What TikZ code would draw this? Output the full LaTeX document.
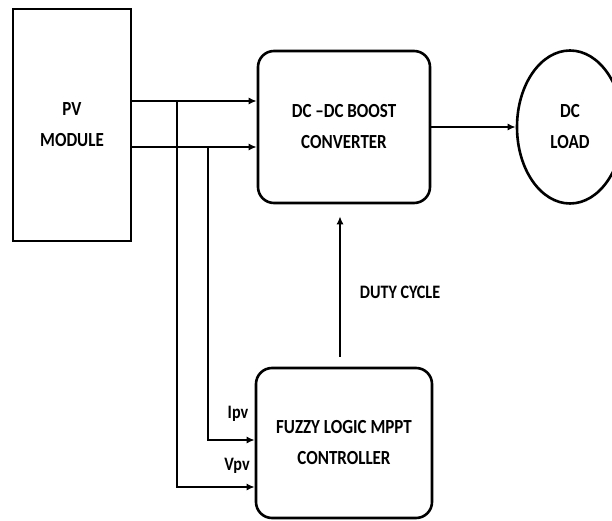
\documentclass[tikz,border=0pt]{standalone}
\usepackage{fontspec}
\setmainfont{Carlito}
\newfontfamily\blockfont[FakeStretch=0.85]{Carlito}
\usetikzlibrary{arrows.meta,positioning,shapes.geometric,calc}

\begin{document}
\begin{tikzpicture}[x=1pt, y=-1pt,
		block/.style={draw, line width=2.6pt, align=center, inner sep=0pt,
				font=\blockfont\fontsize{20}{31}\selectfont\bfseries},
		rblock/.style={block, rounded corners=16pt},
		loadnode/.style={block, ellipse},
		sig/.style={font=\blockfont\fontsize{19}{21}\selectfont\bfseries},
		wire/.style={-{Latex[length=8pt,width=7pt]}, line width=2.4pt}]

		\useasboundingbox (0,0) rectangle (612,521);
		\clip (0,0) rectangle (612,521);

		% ── blocks ──
		\node[block, minimum width=118pt, minimum height=232pt] (pv) at (72,125) {PV\\MODULE};
		\node[rblock, minimum width=172pt, minimum height=152pt] (boost) at (344,127) {DC –DC BOOST\\CONVERTER};
		\node[loadnode, minimum width=106pt, minimum height=153pt] (load) at (570,127) {DC\\LOAD};
		\node[rblock, minimum width=176pt, minimum height=150pt] (mppt) at (344,443) {FUZZY LOGIC MPPT\\CONTROLLER};

		% ── tap points ──
		\coordinate (tapv) at (177,101);
		\coordinate (tapi) at (208,147);
		\coordinate (duty) at (340,0);

		% ── PV to converter ──
		\draw[wire] (pv.east |- tapv) -- (boost.west |- tapv);
		\draw[wire] (pv.east |- tapi) -- (boost.west |- tapi);

		% ── sensed signals to controller ──
		\draw[wire] (tapi) |- (mppt.west |- 0,440);
		\draw[wire] (tapv) |- (mppt.west |- 0,487);
		\node[sig] (ipv) at (238,414) {Ipv};
		\node[sig] (vpv) at (237,466) {Vpv};

		% ── duty cycle and load ──
		\draw[wire, shorten <=10pt, shorten >=12pt] (mppt.north -| duty) -- (boost.south -| duty);
		\node[sig] (dlab) at (400,292) {DUTY CYCLE};
		\draw[wire] (boost.east) -- (load.west);

	\end{tikzpicture}
\end{document}
